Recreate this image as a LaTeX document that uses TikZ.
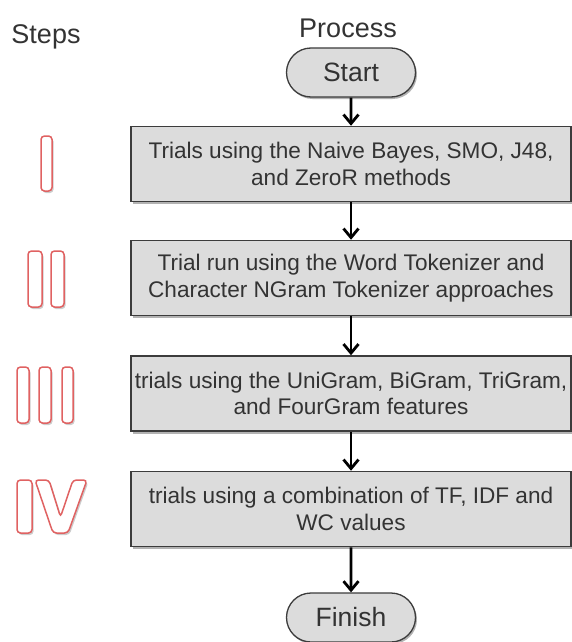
\documentclass[tikz,border=0pt]{standalone}
\usepackage{fontspec}
\setmainfont{Liberation Sans}
\usetikzlibrary{arrows.meta,shapes.misc,shadows}

\definecolor{inkgray}{HTML}{333333}
\definecolor{edgegray}{HTML}{3C3C3C}
\definecolor{boxfill}{HTML}{DCDCDC}
\definecolor{numred}{HTML}{E06262}

\tikzset{
  header/.style={text=inkgray, font=\fontsize{27}{30}\selectfont, inner sep=0pt},
  stepbox/.style={draw=edgegray, line width=1.5pt, fill=boxfill,
    minimum width=440pt, minimum height=75pt, inner sep=2pt,
    align=center, text=inkgray, font=\fontsize{22.6}{26.5}\selectfont,
    drop shadow={shadow xshift=2pt, shadow yshift=-2.5pt, fill=black, opacity=0.3}},
  terminal/.style={rounded rectangle, draw=edgegray, line width=1.3pt, fill=boxfill,
    minimum width=133pt, minimum height=49pt, inner sep=2pt,
    text=inkgray, font=\fontsize{26.5}{30}\selectfont,
    drop shadow={shadow xshift=1.5pt, shadow yshift=-2pt, fill=black, opacity=0.3}},
  flow/.style={draw=black, line width=2.8pt, -{Straight Barb[length=9pt,width=15pt]}},
  numeral/.style={draw=numred, line width=1.5pt, fill=white, rounded corners=3.5pt},
  numshade/.style={fill=black, opacity=0.2, rounded corners=3.5pt},
}

\begin{document}
\begin{tikzpicture}[x=1pt, y=-1pt]
  \useasboundingbox (0,0) rectangle (572,642);

  % column headings
  \node[header] (steps) at (46,37) {Steps};
  \node[header] (process) at (348,28) {Process};

  % process column
  \node[terminal] (start) at (351,72.5) {Start};
  \node[stepbox] (s1) at (351,164) {Trials using the Naive Bayes, SMO, J48,\\and ZeroR methods};
  \node[stepbox] (s2) at (351,278) {Trial run using the Word Tokenizer and\\Character NGram Tokenizer approaches};
  \node[stepbox] (s3) at (351,393.5) {trials using the UniGram, BiGram, TriGram,\\and FourGram features};
  \node[stepbox] (s4) at (351,509) {trials using a combination of TF, IDF and\\WC values};
  \node[terminal] (finish) at (351,617.5) {Finish};

  \draw[flow] (start) -- (s1);
  \draw[flow] (s1) -- (s2);
  \draw[flow] (s2) -- (s3);
  \draw[flow] (s3) -- (s4);
  \draw[flow] (s4) -- (finish);

  % outlined roman step numerals: soft shade first, then the red outline
  \foreach \xa/\ya/\xb/\yb in {41/136/52/191,
                              28/251/42/307, 51/251/64/307,
                              17/367/29/423, 39/367/51/423, 62/367/73/423,
                              17/480/32/533} {
    \fill[numshade] (\xa+1.5,\ya+2) rectangle (\xb+1.5,\yb+2);
    \draw[numeral] (\xa,\ya) rectangle (\xb,\yb);
  }
  \fill[numshade, shift={(1.5,2)}]
    (35,480) -- (53,533) -- (68,533) -- (87,480) -- (73,480) -- (60.5,517) -- (49,480) -- cycle;
  \draw[numeral]
    (35,480) -- (53,533) -- (68,533) -- (87,480) -- (73,480) -- (60.5,517) -- (49,480) -- cycle;
\end{tikzpicture}
\end{document}
